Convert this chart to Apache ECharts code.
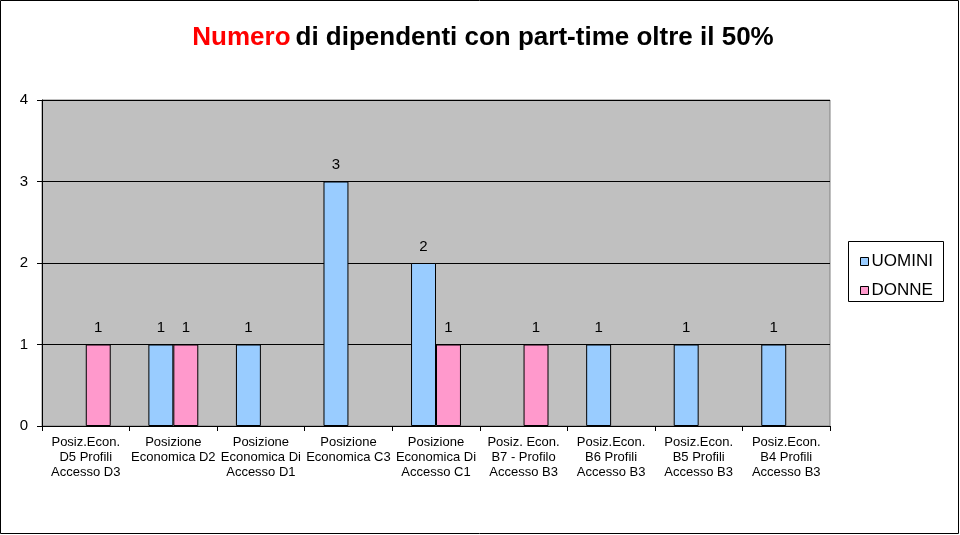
<!DOCTYPE html>
<html><head><meta charset="utf-8">
<script src="https://cdn.jsdelivr.net/npm/echarts@6/dist/echarts.min.js"></script>
<style>html,body{margin:0;padding:0;background:#fff}#c{width:960px;height:535px}</style>
</head><body><div id="c"></div>
<script>
const categories = [
  "Posiz.Econ.\nD5 Profili\nAccesso D3",
  "Posizione\nEconomica D2",
  "Posizione\nEconomica Di\nAccesso D1",
  "Posizione\nEconomica C3",
  "Posizione\nEconomica Di\nAccesso C1",
  "Posiz. Econ.\nB7 - Profilo\nAccesso B3",
  "Posiz.Econ.\nB6 Profili\nAccesso B3",
  "Posiz.Econ.\nB5 Profili\nAccesso B3",
  "Posiz.Econ.\nB4 Profili\nAccesso B3"
];
const uomini = [0, 1, 1, 3, 2, 0, 1, 1, 1];
const donne  = [1, 1, 0, 0, 1, 1, 0, 0, 0];
const yTicks = [0, 1, 2, 3, 4];

const FONT = 'Arial, Liberation Sans';
const chart = echarts.init(document.getElementById('c'), null, {renderer: 'canvas'});
const lbl = {
  show: true, position: 'top', distance: 9, color: '#000',
  fontFamily: FONT, fontSize: 15,
  formatter: p => String(p.value)
};
const toBars = arr => arr.map(v => v === 0 ? null : v);
chart.setOption({
  backgroundColor: '#fff',
  animation: false,
  title: {
    text: '{r|Numero} {b|di dipendenti con part-time oltre il 50%}',
    left: 478, top: 20, textAlign: 'center',
    textStyle: {
      rich: {
        r: {color: '#FF0000', fontSize: 26, fontWeight: 'bold', fontFamily: FONT},
        b: {color: '#000', fontSize: 26, fontWeight: 'bold', fontFamily: FONT}
      }
    }
  },
  graphic: [
    {type: 'rect', shape: {x: 0.5, y: 0.5, width: 958, height: 533}, style: {fill: 'none', stroke: '#000', lineWidth: 1}, z: 100},
    {type: 'rect', shape: {x: 848.5, y: 241.5, width: 95, height: 60}, style: {fill: '#fff', stroke: '#000', lineWidth: 1}, z: 0}
  ],
  legend: {
    orient: 'vertical', left: 855, top: 248, itemGap: 12,
    itemWidth: 8, itemHeight: 8, icon: 'rect',
    itemStyle: {borderColor: '#000', borderWidth: 1},
    textStyle: {fontFamily: FONT, fontSize: 17, color: '#000', padding: [0,0,0,-2]},
    data: ['UOMINI', 'DONNE']
  },
  grid: {left: 42, top: 100, width: 788, height: 326, show: true, backgroundColor: '#C0C0C0', borderColor: '#808080', borderWidth: 1},
  xAxis: {
    type: 'category', data: categories,
    axisLine: {show: true, lineStyle: {color: '#000'}},
    axisTick: {show: true, length: 5, lineStyle: {color: '#000'}},
    axisLabel: {interval: 0, fontFamily: FONT, fontSize: 13, color: '#000', lineHeight: 15, margin: 9}
  },
  yAxis: {
    type: 'value', min: yTicks[0], max: yTicks[yTicks.length-1], interval: 1,
    axisLine: {show: true, lineStyle: {color: '#000'}},
    axisTick: {show: true, length: 5, lineStyle: {color: '#000'}},
    axisLabel: {fontFamily: FONT, fontSize: 15, color: '#000', margin: 14},
    splitLine: {show: true, lineStyle: {color: '#000', width: 1}}
  },
  series: [
    {name: 'UOMINI', type: 'bar', data: toBars(uomini), barGap: '0%', barCategoryGap: '43%',
     itemStyle: {color: '#99CCFF', borderColor: '#000', borderWidth: 1}, label: lbl},
    {name: 'DONNE', type: 'bar', data: toBars(donne), barGap: '0%', barCategoryGap: '43%',
     itemStyle: {color: '#FF99CC', borderColor: '#000', borderWidth: 1}, label: lbl}
  ]
});
</script></body></html>
